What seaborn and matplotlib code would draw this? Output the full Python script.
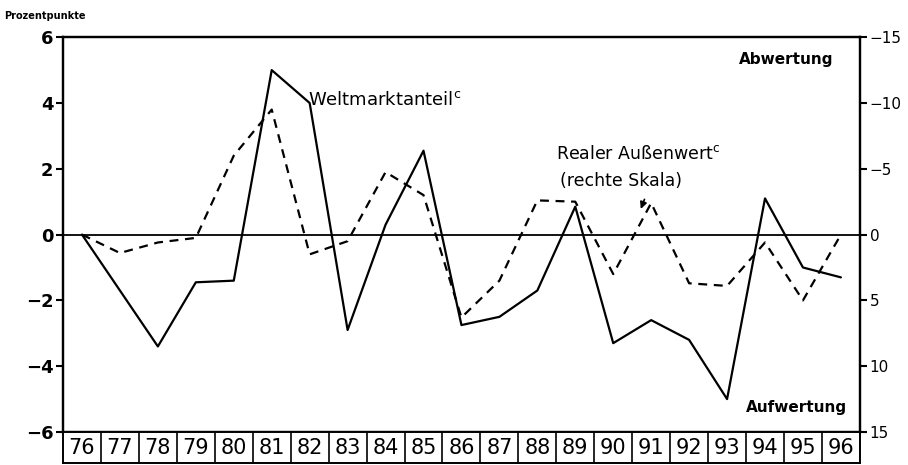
import pandas as pd
import seaborn as sns
import matplotlib.pyplot as plt

# values
years = list(range(76, 97))
year_labels = [str(y) for y in years]
weltmarktanteil = [0.0, -1.7, -3.4, -1.45, -1.4, 5.0, 4.0, -2.9, 0.3, 2.55, -2.75,
                   -2.5, -1.7, 0.85, -3.3, -2.6, -3.2, -5.0, 1.1, -1.0, -1.3]
# real exchange rate, right scale (inverted)
aussenwert = [0.0, 1.4, 0.6, 0.25, -6.0, -9.5, 1.5, 0.5, -4.75, -3.0, 6.3,
              3.5, -2.6, -2.5, 3.0, -2.4, 3.7, 3.9, 0.6, 5.0, 0.0]
left_ticks = [-6, -4, -2, 0, 2, 4, 6]
right_ticks = [-15, -10, -5, 0, 5, 10, 15]

df = pd.DataFrame({'jahr': years, 'welt': weltmarktanteil, 'aussen': aussenwert})

sns.set_style('ticks')
plt.rcParams['font.family'] = ['DejaVu Sans']
plt.rcParams['text.color'] = 'black'
plt.rcParams['xtick.color'] = 'black'
plt.rcParams['ytick.color'] = 'black'

fig = plt.figure(figsize=(9.08, 4.65), dpi=100)
ax = fig.add_axes([0.0694, 0.071, 0.8776, 0.849])
ax2 = ax.twinx()

sns.lineplot(data=df, x='jahr', y='welt', ax=ax, color='black', linewidth=1.6)
sns.lineplot(data=df, x='jahr', y='aussen', ax=ax2, color='black', linewidth=1.6)
ax2.lines[0].set_linestyle((0, (4, 3)))

ax.axhline(0, color='black', linewidth=1.3)
ax.set_xlim(75.5, 96.5)
ax.set_ylim(-6, 6)
ax2.set_ylim(15, -15)
ax.set_yticks(left_ticks)
ax2.set_yticks(right_ticks)
ax.set_xticks([])
ax.set_xlabel('')
ax.set_ylabel('')
ax2.set_ylabel('')
ax.tick_params(axis='y', labelsize=13, width=1.5, length=5, direction='out', pad=2,
               colors='black')
ax2.tick_params(axis='y', labelsize=11, width=1.5, length=5, direction='out', pad=2,
                colors='black')
for a in (ax, ax2):
    for s in a.spines.values():
        s.set_linewidth(1.6)
        s.set_color('black')
        s.set_visible(True)
for lab in ax.get_yticklabels():
    lab.set_fontweight('bold')

# year boxes below the plot
axb = fig.add_axes([0.0694, 0.004, 0.8776, 0.067], sharex=ax)
axb.set_ylim(0, 1)
axb.set_yticks([])
axb.tick_params(axis='x', length=0, labelbottom=False)
for s in axb.spines.values():
    s.set_linewidth(1.4)
    s.set_color('black')
for y, lab in zip(years, year_labels):
    axb.axvline(y + 0.5, color='black', linewidth=1.2)
    axb.text(y, 0.48, lab, ha='center', va='center', fontsize=15, color='black')

# annotations
ax.text(81.95, 4.1, 'Weltmarktanteil$^{\\rm c}$', fontsize=13, va='center', ha='left')
ax.text(88.5, 2.45, 'Realer Außenwert$^{\\rm c}$', fontsize=12.5, va='center', ha='left')
ax.text(88.6, 1.64, '(rechte Skala)', fontsize=12.5, va='center', ha='left')
ax.annotate('', xy=(90.7, 0.7), xytext=(90.85, 1.15),
            arrowprops=dict(arrowstyle='-|>', color='black', lw=1.2))
ax.text(95.8, 5.33, 'Abwertung', fontsize=11, fontweight='bold', ha='right', va='center')
ax.text(96.15, -5.27, 'Aufwertung', fontsize=11, fontweight='bold', ha='right', va='center')
fig.text(0.005, 0.965, 'Prozentpunkte', fontsize=7, fontweight='bold', ha='left', va='center')

fig.savefig('out.png', dpi=100)
